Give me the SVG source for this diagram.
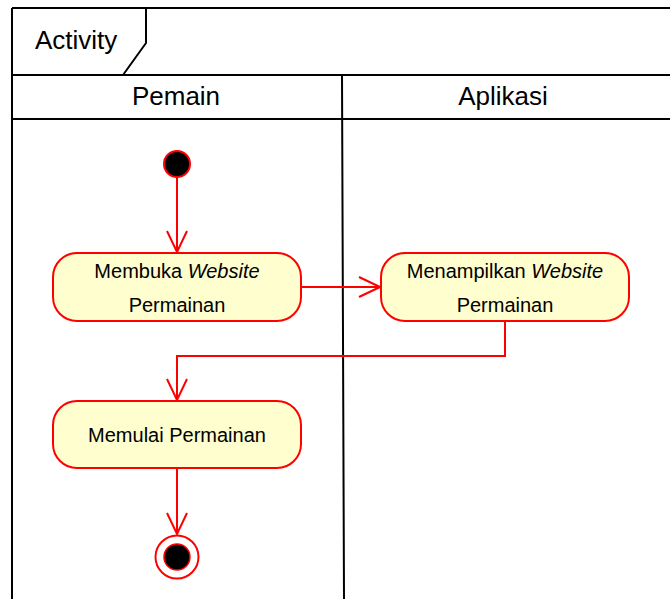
<svg xmlns="http://www.w3.org/2000/svg" width="670" height="599" viewBox="0 0 670 599">
  <style>
    .frame { fill: none; stroke: #000; stroke-width: 2; }
    .act { fill: #FEFECE; stroke: #FF0000; stroke-width: 2; }
    .flow { fill: none; stroke: #FF0000; stroke-width: 2; }
    .lbl { font-family: "Liberation Sans", Arial, sans-serif; font-size: 20px; fill: #000; text-anchor: middle; }
    .hdr { font-family: "Liberation Sans", Arial, sans-serif; font-size: 26px; fill: #000; }
  </style>
  <defs>
    <marker id="open" viewBox="0 0 24 24" refX="22" refY="12" markerWidth="24" markerHeight="24" markerUnits="userSpaceOnUse" orient="auto">
      <path d="M1,2 L22,12 L1,22" fill="none" stroke="#FF0000" stroke-width="2"/>
    </marker>
  </defs>
  <rect width="670" height="599" fill="#fff"/>

  <!-- activity frame with swimlanes -->
  <g id="frame">
    <path class="frame" d="M12,8 H670 M12,8 V599 M12,75 H670 M12,119 H670 M342,75 L344,599"/>
    <path class="frame" d="M146,8 V43 L123,75"/>
    <text class="hdr" x="35" y="49">Activity</text>
    <text class="hdr" x="176" y="105" text-anchor="middle">Pemain</text>
    <text class="hdr" x="503" y="105" text-anchor="middle">Aplikasi</text>
  </g>

  <!-- transitions -->
  <g id="connectors">
    <path class="flow" d="M177,177 V252" marker-end="url(#open)"/>
    <path class="flow" d="M301,287 H380" marker-end="url(#open)"/>
    <path class="flow" d="M505,321 V356 H177 V400" marker-end="url(#open)"/>
    <path class="flow" d="M177,468 V534" marker-end="url(#open)"/>
  </g>

  <g id="start">
    <circle cx="177" cy="164" r="13" fill="#000" stroke="#FF0000" stroke-width="2"/>
  </g>

  <g id="membuka">
    <rect class="act" x="53" y="253" width="248" height="68" rx="24"/>
    <text class="lbl" x="177" y="278">Membuka <tspan font-style="italic">Website</tspan></text>
    <text class="lbl" x="177" y="312">Permainan</text>
  </g>

  <g id="menampilkan">
    <rect class="act" x="381" y="253" width="248" height="68" rx="24"/>
    <text class="lbl" x="505" y="278">Menampilkan <tspan font-style="italic">Website</tspan></text>
    <text class="lbl" x="505" y="312">Permainan</text>
  </g>

  <g id="memulai">
    <rect class="act" x="53" y="401" width="248" height="67" rx="24"/>
    <text class="lbl" x="177" y="442">Memulai Permainan</text>
  </g>

  <g id="end">
    <circle cx="177" cy="557" r="21.5" fill="#fff" stroke="#FF0000" stroke-width="2"/>
    <circle cx="177" cy="557" r="13" fill="#000" stroke="#FF0000" stroke-width="1.5"/>
  </g>
</svg>
